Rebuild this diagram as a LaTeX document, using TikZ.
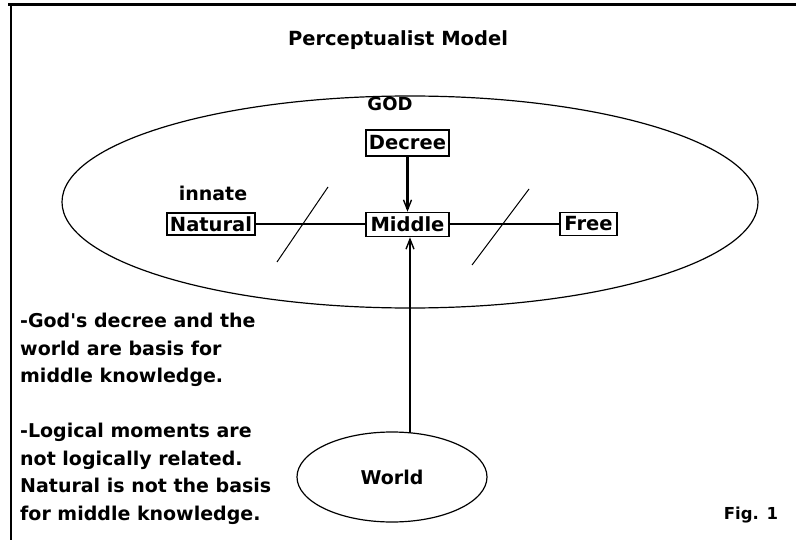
\documentclass[tikz,border=0pt]{standalone}
\usepackage{fontspec}
\setmainfont{DejaVu Sans}[Ligatures=TeXOff]
\usetikzlibrary{arrows.meta,shapes.geometric}
\begin{document}
\begin{tikzpicture}[x=1pt,y=-1pt,
  lbl/.style={font=\bfseries\fontsize{18}{20}\selectfont, inner sep=0pt},
  boxn/.style={draw, line width=1.6pt, inner sep=0pt, font=\bfseries\fontsize{19.5}{20}\selectfont},
  note/.style={font=\bfseries\fontsize{19}{27.5}\selectfont, align=left, inner sep=0pt, anchor=north west},
  conn/.style={line width=2.4pt, -{Straight Barb[length=10pt,width=8pt,line width=1.4pt]}},
  slash/.style={line width=1pt}]
\useasboundingbox (0,0) rectangle (796,543);
\fill[white] (0,0) rectangle (796,543);
% frame
\draw[line width=3pt] (8,5) -- (796,5);
\draw[line width=2pt] (11,4) -- (11,540);
% title
\node[lbl, font=\bfseries\fontsize{19.5}{20}\selectfont] (title) at (398,40) {Perceptualist Model};
% big ellipse
\draw[line width=1.2pt] (410,202) ellipse [x radius=348, y radius=106];
\node[lbl] (god) at (390,104) {GOD};
% boxes
\node[boxn, minimum width=83pt, minimum height=26pt] (dec) at (407.5,143) {Decree};
\node[boxn, minimum width=83pt, minimum height=24pt] (mid) at (407.5,224.5) {Middle};
\node[boxn, line width=2pt, minimum width=88pt, minimum height=22pt] (nat) at (211,224) {Natural};
\node[boxn, minimum width=57pt, minimum height=23pt] (free) at (588.5,224) {Free};
\node[lbl, font=\bfseries\fontsize{19}{20}\selectfont] (innate) at (213,193) {innate};
% connectors
\draw[line width=1.8pt] (nat.east) -- (nat.east -| mid.west);
\draw[line width=1.1pt] (free.west -| mid.east) -- (free.west);
\draw[conn] (dec.south) -- (mid.north);
% world
\node[draw, ellipse, line width=1.2pt, minimum width=190pt, minimum height=90pt, inner sep=0pt,
      font=\bfseries\fontsize{19}{20}\selectfont] (world) at (392,477) {World};
\coordinate (wtop) at (410,433);
\draw[conn] (wtop) -- (mid.south -| wtop);
% slashes
\draw[slash] (277,262) -- (328,187);
\draw[slash] (472,265) -- (529,189);
% notes
\node[note] (n1) at (20,313) {-God's decree and the\\world are basis for\\middle knowledge.};
\node[note] (n2) at (20,423) {-Logical moments are\\not logically related.\\Natural is not the basis\\for middle knowledge.};
\node[font=\bfseries\fontsize{16.5}{20}\selectfont, inner sep=0pt] (fig) at (751,515) {Fig. 1};
\end{tikzpicture}
\end{document}
